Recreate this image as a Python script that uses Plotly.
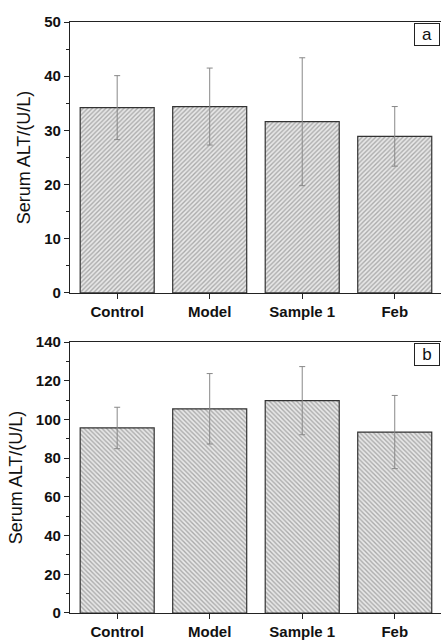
import plotly.graph_objects as go

categories = ["Control", "Model", "Sample 1", "Feb"]
alt_a = [34.2, 34.4, 31.6, 28.9]
err_a = [5.9, 7.1, 11.8, 5.5]
alt_b = [95.6, 105.5, 109.7, 93.5]
err_b = [10.7, 18.2, 17.6, 18.9]
panel_labels = ["a", "b"]
y_title = "Serum ALT/(U/L)"

FONT = "Liberation Sans, Arial, sans-serif"

fig = go.Figure()

def bar_trace(y, err, shape, xa, ya):
    return go.Bar(
        x=categories, y=y, width=0.8,
        marker=dict(color="#e6e6e6", line=dict(color="#333333", width=1.2),
                    pattern=dict(shape=shape, fgcolor="#6a6a6a", bgcolor="#e8e8e8",
                                 size=3.2, solidity=0.42)),
        error_y=dict(type="data", array=err, visible=True, color="#888888", thickness=1, width=3),
        xaxis=xa, yaxis=ya, showlegend=False,
    )

fig.add_trace(bar_trace(alt_a, err_a, "/", "x", "y"))
fig.add_trace(bar_trace(alt_b, err_b, "\\", "x2", "y2"))

xcommon = dict(
    range=[-0.51, 3.5], showline=True, linecolor="#222222", linewidth=1.2, mirror=True,
    ticks="outside", ticklen=5, tickcolor="#222222", showgrid=False, zeroline=False,
    tickfont=dict(family=FONT, size=15, color="#111111", weight="bold"),
)
ycommon = dict(
    showline=True, linecolor="#222222", linewidth=1.2, mirror=True,
    ticks="outside", ticklen=5, tickcolor="#222222", showgrid=False, zeroline=False,
    tickfont=dict(family=FONT, size=15, color="#111111", weight="bold"),
    title=dict(text=y_title, font=dict(family=FONT, size=18, color="#111111"), standoff=8),
)

label_common = dict(xref="paper", yref="paper", xanchor="right", yanchor="top", showarrow=False,
                    font=dict(family=FONT, size=17, color="#111111"),
                    bordercolor="#222222", borderwidth=1, borderpad=1, bgcolor="white",
                    width=22, height=19)

fig.update_layout(
    width=441, height=641,
    margin=dict(l=70, r=0, t=22, b=28),
    paper_bgcolor="white", plot_bgcolor="white",
    xaxis=dict(xcommon, anchor="y", domain=[0, 1]),
    yaxis=dict(ycommon, domain=[0.5415, 1], range=[0, 50], dtick=10,
               minor=dict(dtick=5, ticks="outside", ticklen=3, tickcolor="#222222")),
    xaxis2=dict(xcommon, anchor="y2", domain=[0, 1]),
    yaxis2=dict(ycommon, domain=[0, 0.4585], range=[0, 140], dtick=20,
                minor=dict(dtick=10, ticks="outside", ticklen=3, tickcolor="#222222")),
    annotations=[
        dict(label_common, text=panel_labels[0], x=0.998, y=0.9985),
        dict(label_common, text=panel_labels[1], x=0.998, y=0.4570),
    ],
)

fig.write_html("out.html", config={"displayModeBar": False},
               post_script="document.body.style.margin='0';")
